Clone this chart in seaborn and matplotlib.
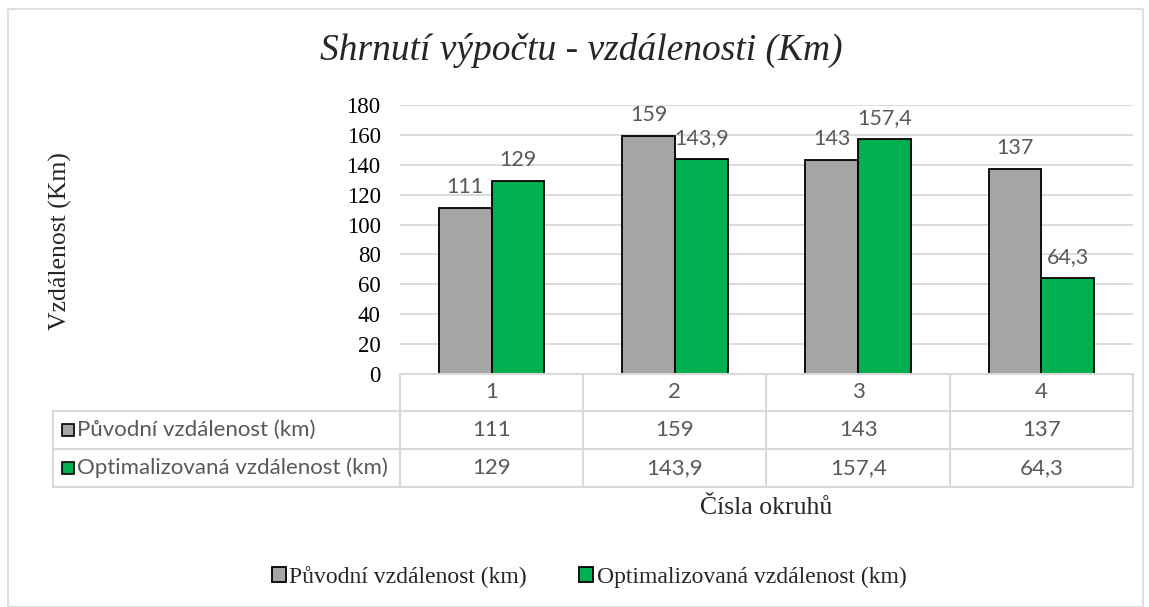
import pandas as pd
import numpy as np
import matplotlib.pyplot as plt
from matplotlib.patches import Rectangle
from matplotlib.lines import Line2D
import seaborn as sns

# data
okruhy = ["1", "2", "3", "4"]
puvodni = [111, 159, 143, 137]
optimalizovana = [129, 143.9, 157.4, 64.3]
serie = ["Původní vzdálenost (km)", "Optimalizovaná vzdálenost (km)"]
barvy = ["#A5A5A5", "#00B050"]
y_ticks = [0, 20, 40, 60, 80, 100, 120, 140, 160, 180]

df = pd.DataFrame({
    "okruh": okruhy * 2,
    "typ": [serie[0]] * 4 + [serie[1]] * 4,
    "km": puvodni + optimalizovana,
})

def fmt(v):
    return f"{v:g}".replace(".", ",")

sns.set_theme(style="white")
plt.rcParams["font.family"] = ["Liberation Serif", "DejaVu Serif"]

W, H = 1149, 607
fig = plt.figure(figsize=(W / 100, H / 100), dpi=100)

def fx(px):
    return px / W

def fy(py):
    return 1 - py / H

# chart border
fig.patches.append(Rectangle((fx(8), fy(607)), fx(1143) - fx(8), fy(9) - fy(607),
                             transform=fig.transFigure, fill=False,
                             edgecolor="#D9D9D9", linewidth=1.2))

left, right, top, bottom = 400, 1133, 105, 374
ax = fig.add_axes([fx(left), fy(bottom), fx(right) - fx(left), fy(top) - fy(bottom)])

sns.barplot(data=df, x="okruh", y="km", hue="typ", palette=barvy, saturation=1,
            edgecolor="black", linewidth=1.3, width=0.575, gap=0, ax=ax)

handles, labels = ax.get_legend_handles_labels()
ax.get_legend().remove()

for cont, vals in zip(ax.containers, [puvodni, optimalizovana]):
    ax.bar_label(cont, labels=[fmt(v) for v in vals], padding=8,
                 fontsize=15.5, color="#595959", family="Lato")

ax.set_xlim(-0.5, 3.5)
ax.set_ylim(0, 180)
ax.set_yticks(y_ticks)
ax.tick_params(axis="y", length=0, pad=14, labelsize=16.5, labelcolor="black")
ax.set_xticks([])
ax.set_xlabel("")
ax.set_ylabel("")
ax.yaxis.grid(True, color="#D9D9D9", linewidth=1.3)
ax.set_axisbelow(True)
for s in ax.spines.values():
    s.set_visible(False)

# data table
col_w = (right - left) / 4
rows_y = [374, 411, 449, 487]
lc = "#D9D9D9"

def hline(y, x0, x1):
    fig.lines.append(Line2D([fx(x0), fx(x1)], [fy(y), fy(y)], transform=fig.transFigure,
                            color=lc, linewidth=1.5))

def vline(x, y0, y1):
    fig.lines.append(Line2D([fx(x), fx(x)], [fy(y0), fy(y1)], transform=fig.transFigure,
                            color=lc, linewidth=1.5))

hline(rows_y[0], left, right)
for y in rows_y[1:]:
    hline(y, 53, right)
vline(53, rows_y[1], rows_y[3])
for i in range(5):
    vline(left + i * col_w, rows_y[0], rows_y[3])

for i, o in enumerate(okruhy):
    cx = left + (i + 0.5) * col_w
    fig.text(fx(cx), fy((rows_y[0] + rows_y[1]) / 2), o, ha="center", va="center",
             fontsize=16, color="#595959", family="Lato")
    for r, vals in enumerate([puvodni, optimalizovana]):
        fig.text(fx(cx), fy((rows_y[r + 1] + rows_y[r + 2]) / 2), fmt(vals[i]),
                 ha="center", va="center", fontsize=16, color="#595959", family="Lato")

for r in range(2):
    cy = (rows_y[r + 1] + rows_y[r + 2]) / 2
    fig.patches.append(Rectangle((fx(62), fy(cy + 6)), fx(12), 12 / H,
                                 transform=fig.transFigure, facecolor=barvy[r],
                                 edgecolor="black", linewidth=1.2))
    fig.text(fx(77), fy(cy), serie[r], ha="left", va="center",
             fontsize=16, color="#595959", family="Lato")

# titles and labels
fig.text(fx(581), fy(50), "Shrnutí výpočtu - vzdálenosti (Km)", ha="center", va="center",
         fontsize=27, style="italic")
fig.text(fx(60), fy(241), "Vzdálenost (Km)", ha="center", va="center",
         rotation=90, fontsize=18.5)
fig.text(fx(766), fy(508), "Čísla okruhů", ha="center", va="center", fontsize=18.5)

fig.legend(handles, labels, loc="center", bbox_to_anchor=(fx(589), fy(577)), ncol=2,
           frameon=False, fontsize=17, handlelength=0.6, handleheight=0.6,
           handletextpad=0.15, columnspacing=2.2)

fig.savefig("out.png", dpi=100)
